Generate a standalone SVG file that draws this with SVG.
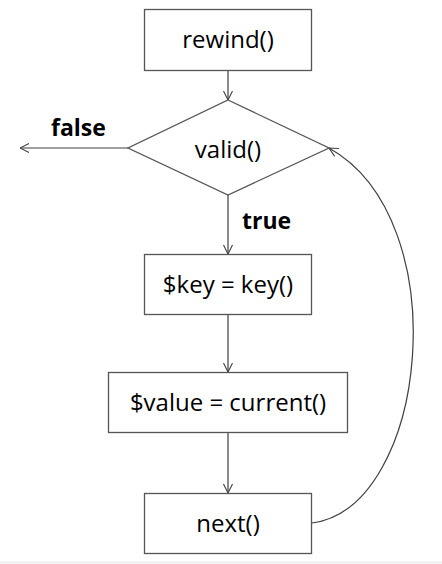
<svg xmlns="http://www.w3.org/2000/svg" width="442" height="564" viewBox="0 0 442 564">
<defs>
<marker id="arr" viewBox="0 0 10 10" refX="10" refY="5" markerWidth="10" markerHeight="10" markerUnits="userSpaceOnUse" orient="auto">
<path d="M1,0.5 L10,5 L1,9.5" fill="none" stroke="#404040" stroke-width="1.1"/>
</marker>
<style>
.box{fill:#fff;stroke:#555;stroke-width:1.3}
.lbl{font-family:"Open Sans","Liberation Sans",sans-serif;font-size:24px;fill:#000;text-anchor:middle}
.b{font-family:"Open Sans","Liberation Sans",sans-serif;font-size:23px;font-weight:bold;fill:#000}
.c{fill:none;stroke:#404040;stroke-width:1.2}
</style>
</defs>
<rect width="442" height="564" fill="#fff"/>
<line x1="0" y1="562.5" x2="442" y2="562.5" stroke="#eee" stroke-width="2"/>
<g id="connectors">
<line class="c" x1="228" y1="70" x2="228" y2="100" marker-end="url(#arr)"/>
<line class="c" x1="128" y1="148" x2="20" y2="148" marker-end="url(#arr)"/>
<line class="c" x1="228" y1="195" x2="228" y2="254" marker-end="url(#arr)"/>
<line class="c" x1="228" y1="315" x2="228" y2="372" marker-end="url(#arr)"/>
<line class="c" x1="228" y1="432" x2="228" y2="493" marker-end="url(#arr)"/>
<path class="c" d="M312,523 C428,508 458,220 329,148" marker-end="url(#arr)"/>
<text class="b" x="51" y="136">false</text>
<text class="b" x="242" y="229">true</text>
</g>
<g id="rewind"><rect class="box" x="144.5" y="9.5" width="167" height="61"/><text class="lbl" x="228" y="48">rewind()</text></g>
<g id="valid"><polygon class="box" points="228,100 329,148 228,195 128,148"/><text class="lbl" x="228" y="158">valid()</text></g>
<g id="key"><rect class="box" x="144.5" y="254.5" width="167" height="60"/><text class="lbl" x="228" y="293">$key = key()</text></g>
<g id="value"><rect class="box" x="108.5" y="372.5" width="239" height="60"/><text class="lbl" x="228" y="411">$value = current()</text></g>
<g id="next"><rect class="box" x="144.5" y="493.5" width="167" height="60"/><text class="lbl" x="228" y="532">next()</text></g>
</svg>
